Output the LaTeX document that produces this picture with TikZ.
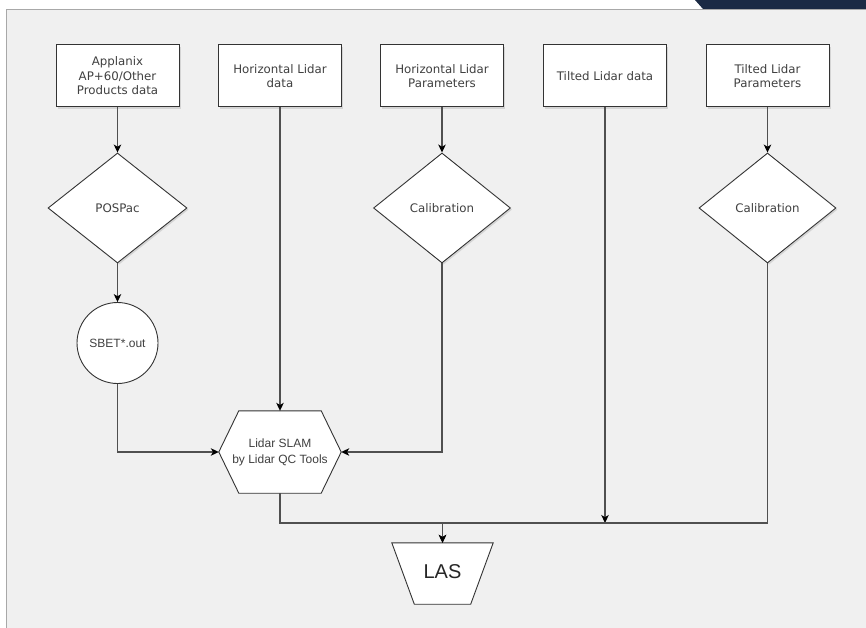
\documentclass[tikz,border=0pt]{standalone}
\usepackage{fontspec}
\setmainfont{DejaVu Sans}
\newfontfamily\arialf{Liberation Sans}
\usetikzlibrary{shapes.geometric,arrows.meta,shadows,calc}
\definecolor{panel}{HTML}{F0F0F0}
\definecolor{frameln}{HTML}{A8A8A8}
\definecolor{conn}{HTML}{505050}
\definecolor{shapeln}{HTML}{333333}
\definecolor{txt}{HTML}{404040}
\definecolor{navy}{HTML}{1B2A44}
\tikzset{
  shad/.style={drop shadow={shadow xshift=1.6pt,shadow yshift=-1.6pt,fill=black!30,opacity=0.45}},
  databox/.style={draw=shapeln,fill=white,line width=1pt,minimum width=123pt,minimum height=62pt,
    align=center,text=txt,font=\fontsize{11.8}{14.5}\selectfont,inner sep=0pt,shad},
  decision/.style={diamond,draw=shapeln,fill=white,line width=0.9pt,minimum width=139pt,minimum height=110pt,
    inner sep=0pt,text=txt,font=\fontsize{11.8}{14.5}\selectfont,shad},
  roundnode/.style={circle,draw=shapeln,fill=white,line width=0.9pt,minimum size=81pt,inner sep=0pt,
    text=txt,font=\arialf\fontsize{12}{14}\selectfont},
  ghost/.style={draw=none,inner sep=0pt},
  conline/.style={draw=conn,line width=1.1pt,line join=miter},
  arr/.style={conline,-{Stealth[length=8pt,width=7.5pt,inset=2.2pt,black]}},
}
\begin{document}
\begin{tikzpicture}[x=1pt,y=-1pt]
\useasboundingbox (0,0) rectangle (866,628);
% background
\fill[white] (0,0) rectangle (866,628);
\fill[panel] (6,10) rectangle (866,628);
\draw[frameln,line width=1pt] (6,628) -- (6,10) -- (866,10);
\fill[navy] (695,0) -- (866,0) -- (866,9) -- (703,9) -- cycle;

% top boxes
\node[databox] (b1) at (117.5,76) {Applanix\\AP+60/Other\\Products data};
\node[databox] (b2) at (280,76) {Horizontal Lidar\\data};
\node[databox] (b3) at (442,76) {Horizontal Lidar\\Parameters};
\node[databox] (b4) at (605,76) {Tilted Lidar data};
\node[databox] (b5) at (767.5,76) {Tilted Lidar\\Parameters};

% diamonds
\node[decision] (pos) at (117.5,208) {POSPac};
\node[decision,minimum width=137pt] (cal1) at (442,208) {Calibration};
\node[decision,minimum width=137pt] (cal2) at (767.5,208) {Calibration};

% circle
\node[roundnode] (sbet) at (117.5,343) {SBET*.out};

% hexagon
\node[ghost,minimum width=122pt,minimum height=82pt] (hex) at (280,452) {};
\fill[white,draw=shapeln,line width=0.9pt]
  (hex.west) -- ($(hex.north west)+(20,0)$) -- ($(hex.north east)+(-20,0)$) -- (hex.east)
  -- ($(hex.south east)+(-20,0)$) -- ($(hex.south west)+(20,0)$) -- cycle;
\node[ghost,align=center,text=txt,font=\arialf\fontsize{12}{16}\selectfont] (hext) at (hex.center) {Lidar SLAM\\by Lidar QC Tools};

% trapezoid
\node[ghost,minimum width=101pt,minimum height=61pt] (las) at (442.5,573.5) {};
\fill[white,draw=shapeln,line width=0.9pt]
  (las.north west) -- (las.north east) -- ($(las.south east)+(-22.5,0)$) -- ($(las.south west)+(22.5,0)$) -- cycle;
\node[ghost,text=black!85,font=\arialf\fontsize{20}{22}\selectfont] (lastxt) at ([yshift=1.5pt]las.center) {LAS};

% junction coordinates
\coordinate (j4) at (605,523);
\coordinate (jl) at (442.5,523);

% connectors
\draw[arr] (b1) -- (pos);
\draw[arr] (pos) -- (sbet);
\draw[arr] (sbet.south) |- (hex.west);
\draw[arr] (b2) -- (hex.north);
\draw[arr] (b3) -- (cal1);
\draw[arr] (cal1.south) |- (hex.east);
\draw[arr] (b4.south) -- (j4);
\draw[arr] (b5) -- (cal2);
\draw[arr] (hex.south) |- (jl) -- (las.north);
\draw[arr] (cal2.south) |- (jl) -- (las.north);
\end{tikzpicture}
\end{document}
